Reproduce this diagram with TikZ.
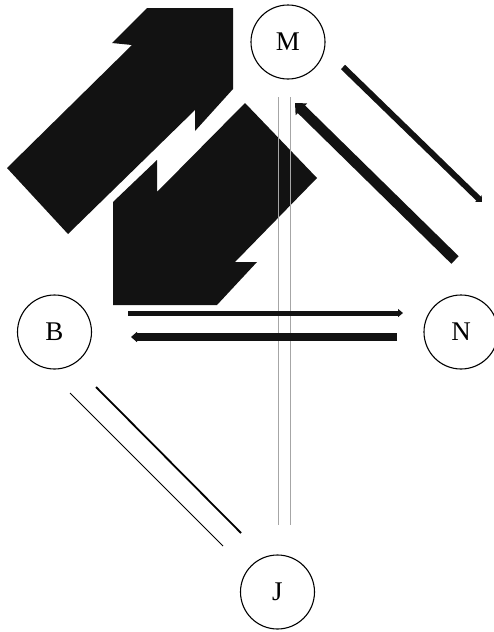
\documentclass[tikz,border=0pt]{standalone}
\usepackage{fontspec}
\setmainfont{Liberation Serif}
\usetikzlibrary{arrows.meta}
\begin{document}
\begin{tikzpicture}[x=1pt,y=-1pt,
  agent/.style={circle,draw,line width=1.1pt,minimum size=74pt,inner sep=0pt,font=\fontsize{27}{27}\selectfont},
  block/.style={fill=black!93,draw=none},
  flow/.style={draw=black!93,line cap=butt},
  guide/.style={draw=black!35,line width=0.7pt},
  link/.style={draw=black}
]
\useasboundingbox (0,0) rectangle (493,632);

% agents
\node[agent] (M) at (288,42) {M};
\node[agent] (B) at (54.5,332) {B};
\node[agent] (N) at (461,332) {N};
\node[agent] (J) at (277.5,592) {J};

% big block arrows
\fill[block] (147,8) -- (233,8) -- (233,89) -- (195,131) -- (195,110) -- (68,234) -- (7,168) -- (132,45) -- (112,43) -- cycle;
\fill[block] (113,305) -- (113,202) -- (157,160) -- (157,192) -- (245,103) -- (317,178) -- (235,262) -- (257,262) -- (217,305) -- cycle;

% gray vertical guides
\coordinate (g1a) at (278,97); \coordinate (g1b) at (278,525);
\coordinate (g2a) at (290,97); \coordinate (g2b) at (290,525);
\draw[guide] (g1a) -- (g1b);
\draw[guide] (g2a) -- (g2b);

% M - N arrows
\coordinate (mn1) at (343,67); \coordinate (mn2) at (482,202);
\draw[flow,line width=6pt,-{Triangle[length=5pt,width=9pt]}] (mn1) -- (mn2);
\coordinate (nm1) at (455,260); \coordinate (nm2) at (295,103);
\draw[flow,line width=10.5pt,-{Triangle[length=9pt,width=16pt]}] (nm1) -- (nm2);

% B - N arrows
\coordinate (bn1) at (128,313); \coordinate (bn2) at (403,313);
\draw[flow,line width=5pt,-{Triangle[length=5pt,width=8pt]}] (bn1) -- (bn2);
\coordinate (nb1) at (397,337); \coordinate (nb2) at (131,337);
\draw[flow,line width=7.5pt,-{Triangle[length=6pt,width=10pt]}] (nb1) -- (nb2);

% B - J lines
\coordinate (bj1) at (70,393); \coordinate (bj2) at (223,546);
\draw[link,line width=0.9pt] (bj1) -- (bj2);
\coordinate (bj3) at (96,387); \coordinate (bj4) at (241,533);
\draw[link,line width=1.8pt] (bj3) -- (bj4);
\end{tikzpicture}
\end{document}
